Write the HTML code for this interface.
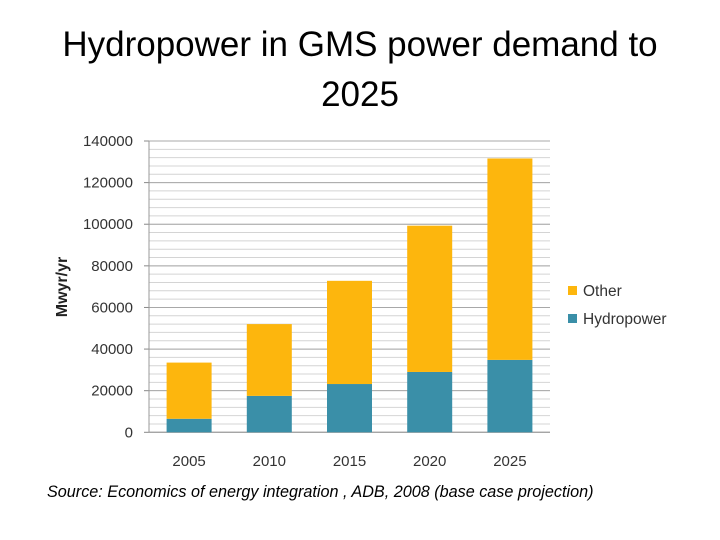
<!DOCTYPE html>
<html><head><meta charset="utf-8"><style>
body{margin:0;width:720px;height:540px;background:#fff;overflow:hidden;font-family:"Liberation Sans",sans-serif}
#title{position:absolute;left:0;top:20px;width:720px;text-align:center;font-size:35px;line-height:50px;color:#000}
#src{position:absolute;left:47px;top:483px;font-size:16.2px;font-style:italic;color:#000}
svg{position:absolute;left:0;top:0}
</style></head><body>
<div id="title">Hydropower in GMS power demand to<br>2025</div>
<svg id="chart" width="720" height="540"></svg>
<div id="src">Source: Economics of energy integration , ADB, 2008 (base case projection)</div>
<script>
const categories=["2005","2010","2015","2020","2025"];
const hydro=[6500,17500,23200,29000,34800];
const other=[27000,34500,49600,70300,96800];
const yTicks=[0,20000,40000,60000,80000,100000,120000,140000];
const NS="http://www.w3.org/2000/svg";
const svg=document.getElementById('chart');
const x0=149,x1=550,yBase=432.3,yTop=141,yMax=140000;
const y=v=>yBase-(v/yMax)*(yBase-yTop);
const band=(x1-x0)/categories.length;
const xc=i=>x0+band*(i+0.5);
function mk(t,a,p){const e=document.createElementNS(NS,t);for(const k in a)e.setAttribute(k,a[k]);(p||svg).appendChild(e);return e;}
for(let v=0;v<=yMax;v+=4000){
  const l=mk('line',{x1:x0,x2:x1,y1:y(v),y2:y(v),stroke:'#d4d4d4','stroke-width':1});
  
  
}
yTicks.forEach(v=>{
  const l=mk('line',{x1:x0,x2:x1,y1:y(v),y2:y(v),stroke:'#a8a8a8','stroke-width':1});
  
  
  const t=mk('line',{x1:x0-5,x2:x0,y1:y(v),y2:y(v),stroke:'#888'});
  
  
  const tx=mk('text',{x:x0-16,y:y(v)+5,'text-anchor':'end','font-size':15,fill:'#333'});
  tx.textContent=v;
  
  
});
const ax=mk('line',{x1:x0,x2:x0,y1:yTop,y2:yBase,stroke:'#999'});


const xa=mk('line',{x1:x0,x2:x1,y1:yBase,y2:yBase,stroke:'#999'});


const bw=45;
categories.forEach((c,i)=>{
  const h=mk('rect',{x:xc(i)-bw/2,y:y(hydro[i]),width:bw,height:yBase-y(hydro[i]),fill:'#3a8fa8'});
  
  
  const o=mk('rect',{x:xc(i)-bw/2,y:y(hydro[i]+other[i]),width:bw,height:y(hydro[i])-y(hydro[i]+other[i]),fill:'#fdb60d'});
  
  
  const t=mk('text',{x:xc(i),y:466,'text-anchor':'middle','font-size':15,fill:'#333'});
  t.textContent=c;
  
  
});
const yt=mk('text',{x:0,y:0,'text-anchor':'middle','font-size':16,'font-weight':'bold',fill:'#222',transform:'translate(67,287) rotate(-90)'});
yt.textContent='Mwyr/yr';


[['Other','#fdb60d',290],['Hydropower','#3a8fa8',318]].forEach(([n,col,yy])=>{
  const g=mk('g',{});
  
  
  mk('rect',{x:568,y:yy-4,width:9,height:9,fill:col},g);
  const t=mk('text',{x:583,y:yy+6,'font-size':15.5,fill:'#333'},g);
  t.textContent=n;
});
</script>
</body></html>
